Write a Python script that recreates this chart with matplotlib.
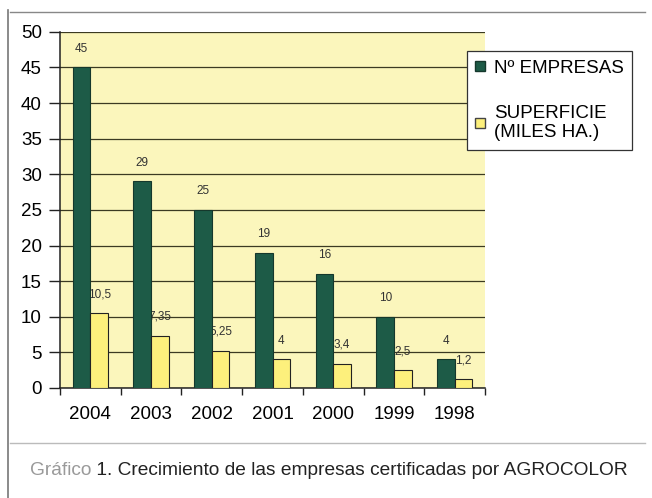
import numpy as np
import matplotlib
matplotlib.use("Agg")
from matplotlib import pyplot as plt
from matplotlib.lines import Line2D
from matplotlib.patches import Patch

# data
years = ["2004", "2003", "2002", "2001", "2000", "1999", "1998"]
empresas = [45, 29, 25, 19, 16, 10, 4]
superficie = [10.5, 7.35, 5.25, 4, 3.4, 2.5, 1.2]
emp_labels = ["45", "29", "25", "19", "16", "10", "4"]
sup_labels = ["10,5", "7,35", "5,25", "4", "3,4", "2,5", "1,2"]
yticks = [0, 5, 10, 15, 20, 25, 30, 35, 40, 45, 50]

green = "#1d5b47"
yellow = "#fdf07c"
bg = "#fbf6bc"

plt.rcParams["font.family"] = ["Liberation Sans", "DejaVu Sans"]

fig = plt.figure(figsize=(6.52, 4.98), dpi=100)
ax = fig.add_axes([0.092, 0.221, 0.652, 0.715])
ax.set_facecolor(bg)

x = np.arange(len(years))
w = 0.29
ax.bar(x - w / 2, empresas, w, color=green, edgecolor="#15382c", linewidth=0.8, zorder=3)
ax.bar(x + w / 2, superficie, w, color=yellow, edgecolor="#222222", linewidth=0.8, zorder=3)

for i in range(len(years)):
    ax.text(x[i] - w / 2, empresas[i] + 1.8, emp_labels[i], ha="center", va="bottom",
            fontsize=8.5, color="#333333", zorder=4)
    ax.text(x[i] + w / 2, superficie[i] + 1.8, sup_labels[i], ha="center", va="bottom",
            fontsize=8.5, color="#333333", zorder=2)

ax.set_xlim(-0.5, len(years) - 0.5)
ax.set_ylim(0, 50)
ax.set_yticks(yticks)
ax.set_yticklabels([str(t) for t in yticks], fontsize=13.5)
ax.yaxis.grid(True, color="#3b3a22", linewidth=0.9, zorder=1)
ax.set_axisbelow(True)

# category labels at centres, tick marks between categories
ax.set_xticks(x)
ax.set_xticklabels(years, fontsize=13.5)
ax.tick_params(axis="x", length=0, pad=13)
ax.set_xticks(np.arange(-0.5, len(years)), minor=True)
ax.tick_params(axis="x", which="minor", length=5, width=1, color="#222222", direction="out")
ax.tick_params(axis="y", length=8, width=1, color="#222222", direction="out", pad=5)

for s in ["top", "right"]:
    ax.spines[s].set_visible(False)
ax.spines["left"].set_color("#222222")
ax.spines["bottom"].set_color("#222222")
ax.spines["left"].set_linewidth(1.1)
ax.spines["bottom"].set_linewidth(1.1)

handles = [Patch(facecolor=green, edgecolor="#15382c"),
           Patch(facecolor=yellow, edgecolor="#444444")]
leg = fig.legend(handles, ["Nº EMPRESAS", "SUPERFICIE\n(MILES HA.)"],
                 loc="upper left", bbox_to_anchor=(0.716, 0.897),
                 fontsize=13.5, frameon=True, fancybox=False, framealpha=1,
                 edgecolor="#333333", handlelength=0.5, handleheight=0.5,
                 handletextpad=0.5, labelspacing=1.5, borderpad=0.45,
                 borderaxespad=0)
leg.get_frame().set_linewidth(0.9)
for t in leg.get_texts():
    t.set_multialignment("left")

# frame lines around the figure
fig.add_artist(Line2D([0.015, 0.99], [0.976, 0.976], color="#888888", linewidth=1.0))
fig.add_artist(Line2D([0.015, 0.99], [0.11, 0.11], color="#bbbbbb", linewidth=1.0))
fig.add_artist(Line2D([0.013, 0.013], [0.0, 0.98], color="#777777", linewidth=1.2))

cap_font = ["Liberation Sans Narrow", "Liberation Sans", "DejaVu Sans"]
t1 = fig.text(0.046, 0.056, "Gráfico", fontsize=13.8, color="#9a9a9a", va="center",
              family=cap_font)
fig.canvas.draw()
bb = t1.get_window_extent()
x1 = fig.transFigure.inverted().transform((bb.x1, bb.y0))[0]
fig.text(x1, 0.056, " 1. Crecimiento de las empresas certificadas por AGROCOLOR",
         fontsize=13.8, color="#222222", va="center", family=cap_font)

fig.savefig("out.png", dpi=100)
